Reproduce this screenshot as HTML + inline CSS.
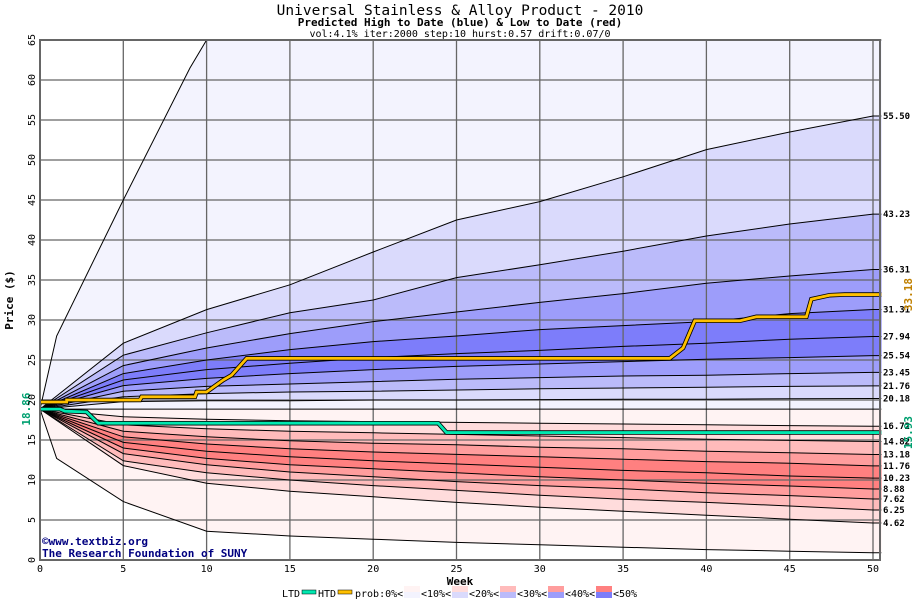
<!DOCTYPE html>
<html><head><meta charset="utf-8"><style>
html,body{margin:0;padding:0;background:#fff;width:920px;height:600px;overflow:hidden}
svg text{font-family:"DejaVu Sans Mono","Liberation Mono",monospace}
</style></head><body>
<svg id="chart" width="920" height="600" viewBox="0 0 920 600" xmlns="http://www.w3.org/2000/svg">
<text x="460" y="15" text-anchor="middle" font-size="14.5" fill="#000">Universal Stainless &amp; Alloy Product - 2010</text>
<text x="460" y="26" text-anchor="middle" font-size="11" font-weight="bold" fill="#000">Predicted High to Date (blue) &amp;  Low to Date (red)</text>
<text x="460" y="37" text-anchor="middle" font-size="10" fill="#000">vol:4.1% iter:2000 step:10 hurst:0.57 drift:0.07/0</text>
<g id="bands"></g>
<g id="grid"></g>
<g id="curves"></g>
<g id="series"></g>
<g id="axes"></g>
<text transform="translate(13,300) rotate(-90)" text-anchor="middle" font-size="11" font-weight="bold">Price ($)</text>
<text x="460" y="585" text-anchor="middle" font-size="11" font-weight="bold">Week</text>
<text x="42" y="545" font-size="11" font-weight="bold" fill="#000080">©www.textbiz.org</text>
<text x="42" y="557" font-size="11" font-weight="bold" fill="#000080">The Research Foundation of SUNY</text>
<g id="legend"></g>
</svg>
<script>
const weeks = [0,5,10,15,20,25,30,35,40,45,50];
const upperEnds = [55.50,43.23,36.31,31.31,27.94,25.54,23.45,21.76,20.18];
const q5550 = [18.86,27.1,31.3,34.4,38.5,42.5,44.8,47.9,51.3,53.5,55.5];
const q4323 = [18.86,25.6,28.4,30.9,32.5,35.3,36.9,38.6,40.5,42.0,43.23];
const q3631 = [18.86,24.3,26.5,28.3,29.8,31.0,32.2,33.3,34.6,35.5,36.31];
const q3131 = [18.86,23.3,25.0,26.3,27.3,28.0,28.8,29.3,29.8,30.8,31.31];
const q2794 = [18.86,22.5,23.8,24.6,25.3,25.8,26.2,26.7,27.1,27.6,27.94];
const q2554 = [18.86,21.8,22.7,23.3,23.8,24.2,24.5,24.8,25.1,25.3,25.54];
const q2345 = [18.86,21.1,21.7,22.0,22.3,22.6,22.8,23.0,23.1,23.3,23.45];
const q2176 = [18.86,20.4,20.8,21.0,21.1,21.25,21.4,21.5,21.6,21.7,21.76];
const q2018 = [18.86,19.8,19.9,19.9,20.0,20.0,20.05,20.1,20.1,20.15,20.18];
const median = [18.86,18.86,18.86,18.86,18.86,18.86,18.86,18.86,18.86,18.86,18.86];
const lowerEnds = [16.72,14.82,13.18,11.76,10.23,8.88,7.62,6.25,4.62];
const q1672 = [18.86,17.9,17.6,17.4,17.3,17.2,17.1,17.0,16.9,16.8,16.72];
const q1482 = [18.86,16.9,16.4,16.1,15.9,15.7,15.5,15.3,15.1,14.95,14.82];
const q1318 = [18.86,16.1,15.4,14.9,14.6,14.4,14.1,13.9,13.6,13.4,13.18];
const q1176 = [18.86,15.4,14.5,13.9,13.5,13.2,12.9,12.6,12.3,12.1,11.76];
const q1023 = [18.86,14.7,13.6,12.9,12.4,12.0,11.6,11.2,10.9,10.5,10.23];
const q0888 = [18.86,14.0,12.7,11.9,11.4,10.9,10.4,10.0,9.6,9.25,8.88];
const q0762 = [18.86,13.3,11.9,11.0,10.4,9.8,9.3,8.9,8.4,8.05,7.62];
const q0625 = [18.86,12.4,10.9,10.0,9.3,8.7,8.1,7.6,7.2,6.75,6.25];
const q0462 = [18.86,11.8,9.6,8.6,7.9,7.2,6.6,6.1,5.6,5.1,4.62];
const outerUpWeeks = [0,1,5,9,10,50.5];
const outerUpVals = [18.86,28,45,61.5,65,65];
const outerLoWeeks = [0,1,5,10,15,20,25,30,35,40,45,50];
const outerLoVals = [18.86,12.7,7.3,3.6,3.0,2.6,2.2,1.9,1.6,1.3,1.1,0.9];
const htdWeeks = [0,1.6,1.6,6,6.1,9.3,9.4,10,11,11.5,12.4,37.8,38.6,39.3,42,43,46,46.3,47.4,48.3,50.5];
const htdVals  = [19.75,19.75,20,20,20.4,20.4,21,21,22.5,23.1,25.2,25.2,26.5,29.9,29.9,30.4,30.4,32.6,33.1,33.18,33.18];
const ltdWeeks = [0,1.2,1.5,2.8,3.5,23.9,24.4,50.5];
const ltdVals  = [18.86,18.86,18.6,18.5,17.1,17.1,15.93,15.93];
const yTicks = [0,5,10,15,20,25,30,35,40,45,50,55,60,65];
const xTicks = [0,5,10,15,20,25,30,35,40,45,50];
const startLabel = "18.86", htdLabel = "33.18", ltdLabel = "15.93";

const X0=40, X1=880, Y0=560, Y1=40;
const xs = w => X0 + w*(833/50);
const ys = v => Y0 - v*((Y0-Y1)/65);
const NS="http://www.w3.org/2000/svg";
function mk(tag, parent, attrs){const e=document.createElementNS(NS,tag);for(const k in attrs)e.setAttribute(k,attrs[k]);parent.appendChild(e);return e;}
function pts(wk, vals){const p=wk.map((w,i)=>[xs(w),ys(Math.min(65,vals[i]))]);const lw=wk[wk.length-1];if(lw<50.5)p.push([xs(50.5),ys(vals[vals.length-1])]);return p;}

const upper=[q5550,q4323,q3631,q3131,q2794,q2554,q2345,q2176,q2018];
const lower=[q1672,q1482,q1318,q1176,q1023,q0888,q0762,q0625,q0462];
const bounds=[pts(outerUpWeeks,outerUpVals)].concat(upper.map(c=>pts(weeks,c)),[pts(weeks,median)],lower.map(c=>pts(weeks,c)),[pts(outerLoWeeks,outerLoVals)]);
const colors=["#f3f3fe","#dadafc","#bbbbfa","#9d9dfa","#7d7dfa","#7d7dfa","#9d9dfa","#bbbbfa","#dadafc","#f3f3fe","#fff3f3","#ffdcdc","#ffbbbb","#ff9d9d","#ff8080","#ff8080","#ff9d9d","#ffbbbb","#ffdcdc","#fff3f3"];
const bandsG=document.getElementById('bands');
for(let i=0;i<bounds.length-1;i++){
  const poly=bounds[i].concat(bounds[i+1].slice().reverse());
  const p=mk('polygon',bandsG,{points:poly.map(q=>q.join(',')).join(' '),fill:colors[i],stroke:colors[i],'stroke-width':0.5});
  
  
}
const gridG=document.getElementById('grid');
yTicks.forEach(v=>{const l=mk('line',gridG,{x1:X0,x2:X1,y1:ys(v),y2:ys(v),stroke:'#666','stroke-width':1.3});
  
  });
xTicks.forEach(w=>{const l=mk('line',gridG,{x1:xs(w),x2:xs(w),y1:Y1,y2:Y0,stroke:'#666','stroke-width':1.3});
  
  });
const curvesG=document.getElementById('curves');
bounds.forEach(b=>{const l=mk('polyline',curvesG,{points:b.map(q=>q.join(',')).join(' '),fill:'none',stroke:'#000','stroke-width':1});
  
  });
const endLabels=upperEnds.concat(lowerEnds);
endLabels.forEach(v=>{const t=mk('text',curvesG,{x:883,y:ys(v)+3,'font-size':9,'font-weight':'bold'});t.textContent=v.toFixed(2);
  
  });
const sG=document.getElementById('series');
function stepLine(wk,vals,col,name){
  const p=wk.map((w,i)=>xs(w)+','+ys(vals[i])).join(' ');
  const a=mk('polyline',sG,{points:p,fill:'none',stroke:'#000','stroke-width':4.5});
  
  
  const b=mk('polyline',sG,{points:p,fill:'none',stroke:col,'stroke-width':2.8});
  
  
}
stepLine(ltdWeeks,ltdVals,'#00e8b0','ltd-line');
stepLine(htdWeeks,htdVals,'#ffc000','htd-line');
const t1=mk('text',sG,{transform:`translate(${912},${ys(33.18)}) rotate(-90)`,'text-anchor':'middle','font-size':11,'font-weight':'bold',fill:'#c08000'});t1.textContent=htdLabel;


const t2=mk('text',sG,{transform:`translate(${912},${ys(15.93)}) rotate(-90)`,'text-anchor':'middle','font-size':11,'font-weight':'bold',fill:'#00a070'});t2.textContent=ltdLabel;


const t3=mk('text',sG,{transform:`translate(${30},${ys(18.86)}) rotate(-90)`,'text-anchor':'middle','font-size':11,'font-weight':'bold',fill:'#00a070'});t3.textContent=startLabel;


const aG=document.getElementById('axes');
const fr=mk('rect',aG,{x:X0,y:Y1,width:X1-X0,height:Y0-Y1,fill:'none',stroke:'#666','stroke-width':2});


yTicks.forEach(v=>{const t=mk('text',aG,{transform:`translate(35,${ys(v)}) rotate(-90)`,'text-anchor':'middle','font-size':10});t.textContent=v;
  
  });
xTicks.forEach(w=>{const t=mk('text',aG,{x:xs(w),y:572,'text-anchor':'middle','font-size':10});t.textContent=w;
  
  });
const lg=document.getElementById('legend');
function ltxt(x,s){const t=mk('text',lg,{x:x,y:597,'font-size':10});t.textContent=s;
  
  }
ltxt(282,'LTD');
const s1=mk('rect',lg,{x:302,y:590,width:14,height:4,fill:'#00e8b0',stroke:'#000','stroke-width':0.5});


ltxt(318,'HTD');
const s2=mk('rect',lg,{x:338,y:590,width:14,height:4,fill:'#ffc000',stroke:'#000','stroke-width':0.5});


ltxt(355,'prob:0%<');
const legBins=[['<10%','#fff3f3','#f3f3fe'],['<20%','#ffdcdc','#dadafc'],['<30%','#ffbbbb','#bbbbfa'],['<40%','#ff9d9d','#9d9dfa'],['<50%','#ff8080','#7d7dfa']];
legBins.forEach((b,i)=>{const x=404+i*48;
  const r1=mk('rect',lg,{x:x,y:586,width:16,height:6,fill:b[1]});
  
  
  const r2=mk('rect',lg,{x:x,y:592,width:16,height:6,fill:b[2]});
  
  
  ltxt(x+17,b[0]+(i<4?'<':''));});
</script>
</body></html>
